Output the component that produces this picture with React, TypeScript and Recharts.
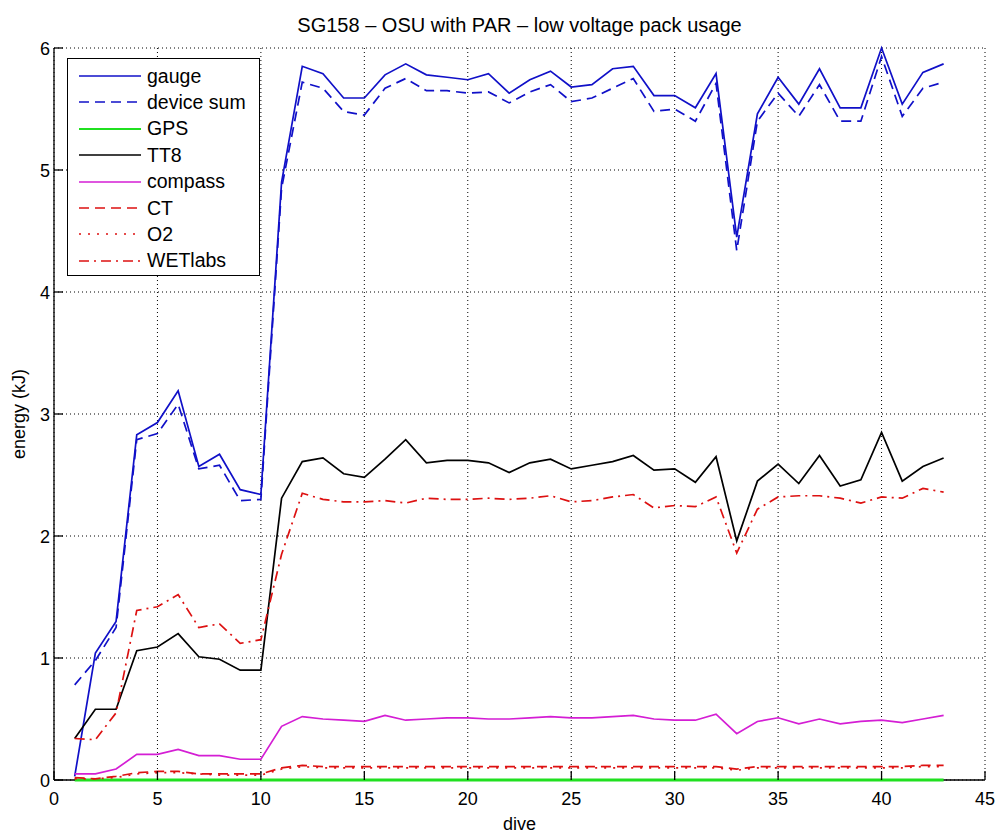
import { LineChart, Line, XAxis, YAxis, CartesianGrid, ReferenceLine } from 'recharts';

// dive numbers
const DIVES = [
  1, 2, 3, 4, 5, 6, 7, 8, 9, 10, 11, 12, 13, 14, 15, 16, 17, 18, 19, 20, 21, 22,
  23, 24, 25, 26, 27, 28, 29, 30, 31, 32, 33, 34, 35, 36, 37, 38, 39, 40, 41, 42, 43,
];

// energy per dive (kJ)
const GAUGE = [
  0.03, 1.04, 1.3, 2.83, 2.93, 3.19, 2.57, 2.67, 2.38, 2.34, 4.9, 5.85, 5.79, 5.59, 5.59,
  5.78, 5.87, 5.78, 5.76, 5.74, 5.79, 5.63, 5.74, 5.81, 5.68, 5.7, 5.83, 5.85, 5.61, 5.61,
  5.51, 5.79, 4.45, 5.46, 5.76, 5.54, 5.83, 5.51, 5.51, 6.0, 5.54, 5.8, 5.87,
];
const DEVICE_SUM = [
  0.78, 0.98, 1.25, 2.79, 2.84, 3.08, 2.55, 2.58, 2.29, 2.3, 4.85, 5.72, 5.67, 5.48, 5.45,
  5.67, 5.75, 5.65, 5.65, 5.63, 5.64, 5.55, 5.64, 5.7, 5.56, 5.59, 5.67, 5.75, 5.48, 5.5,
  5.4, 5.71, 4.34, 5.4, 5.63, 5.44, 5.7, 5.4, 5.4, 5.93, 5.44, 5.67, 5.72,
];
const GPS = [
  0, 0, 0, 0, 0, 0, 0, 0, 0, 0, 0, 0, 0, 0, 0, 0, 0, 0, 0, 0, 0, 0, 0, 0, 0, 0, 0, 0, 0, 0,
  0, 0, 0, 0, 0, 0, 0, 0, 0, 0, 0, 0, 0,
];
const TT8 = [
  0.34, 0.58, 0.58, 1.06, 1.09, 1.2, 1.01, 0.99, 0.9, 0.9, 2.31, 2.61, 2.64, 2.51, 2.48,
  2.63, 2.79, 2.6, 2.62, 2.62, 2.6, 2.52, 2.6, 2.63, 2.55, 2.58, 2.61, 2.66, 2.54, 2.55,
  2.44, 2.65, 1.96, 2.45, 2.59, 2.43, 2.66, 2.41, 2.46, 2.85, 2.45, 2.57, 2.64,
];
const COMPASS = [
  0.05, 0.05, 0.09, 0.21, 0.21, 0.25, 0.2, 0.2, 0.17, 0.17, 0.44, 0.52, 0.5, 0.49, 0.48,
  0.53, 0.49, 0.5, 0.51, 0.51, 0.5, 0.5, 0.51, 0.52, 0.51, 0.51, 0.52, 0.53, 0.5, 0.49,
  0.49, 0.54, 0.38, 0.48, 0.51, 0.46, 0.5, 0.46, 0.48, 0.49, 0.47, 0.5, 0.53,
];
const CT = [
  0.02, 0.01, 0.03, 0.06, 0.07, 0.07, 0.05, 0.05, 0.05, 0.05, 0.1, 0.12, 0.11, 0.11, 0.11,
  0.11, 0.11, 0.11, 0.11, 0.11, 0.11, 0.11, 0.11, 0.11, 0.11, 0.11, 0.11, 0.11, 0.11, 0.11,
  0.11, 0.11, 0.09, 0.11, 0.11, 0.11, 0.11, 0.11, 0.11, 0.11, 0.11, 0.12, 0.12,
];
const O2 = [
  0.01, 0.01, 0.02, 0.05, 0.06, 0.06, 0.05, 0.04, 0.04, 0.04, 0.09, 0.11, 0.1, 0.1, 0.1,
  0.1, 0.1, 0.1, 0.1, 0.1, 0.1, 0.1, 0.1, 0.1, 0.1, 0.1, 0.1, 0.1, 0.1, 0.1,
  0.1, 0.1, 0.08, 0.1, 0.1, 0.1, 0.1, 0.1, 0.1, 0.1, 0.1, 0.11, 0.11,
];
const WETLABS = [
  0.34, 0.33, 0.55, 1.39, 1.42, 1.52, 1.25, 1.28, 1.12, 1.15, 1.85, 2.35, 2.3, 2.28, 2.28,
  2.29, 2.27, 2.31, 2.3, 2.3, 2.31, 2.3, 2.31, 2.33, 2.28, 2.29, 2.32, 2.34, 2.23, 2.25,
  2.24, 2.32, 1.86, 2.22, 2.32, 2.33, 2.33, 2.31, 2.27, 2.32, 2.31, 2.39, 2.36,
];

const X_TICKS = [0, 5, 10, 15, 20, 25, 30, 35, 40, 45];
const Y_TICKS = [0, 1, 2, 3, 4, 5, 6];

const TITLE = 'SG158 – OSU with PAR – low voltage pack usage';

const BLUE = '#1010c8';
const RED = '#dd1111';

const SERIES = [
  { key: 'gauge', label: 'gauge', values: GAUGE, color: BLUE, dash: undefined, width: 1.7 },
  { key: 'deviceSum', label: 'device sum', values: DEVICE_SUM, color: BLUE, dash: '10 6', width: 1.7 },
  { key: 'gps', label: 'GPS', values: GPS, color: '#20e020', dash: undefined, width: 3 },
  { key: 'tt8', label: 'TT8', values: TT8, color: '#000000', dash: undefined, width: 1.7 },
  { key: 'compass', label: 'compass', values: COMPASS, color: '#d41ed4', dash: undefined, width: 1.7 },
  { key: 'ct', label: 'CT', values: CT, color: RED, dash: '10 6', width: 1.7 },
  { key: 'o2', label: 'O2', values: O2, color: RED, dash: '2 7', width: 1.7 },
  { key: 'wetlabs', label: 'WETlabs', values: WETLABS, color: RED, dash: '10 5 2 5', width: 1.7 },
];

const data = DIVES.map((dive, i) => {
  const row: Record<string, number> = { dive };
  SERIES.forEach((s) => {
    row[s.key] = s.values[i];
  });
  return row;
});

const FONT = '"Liberation Sans", Arial, Helvetica, sans-serif';
const TICK_LEN = 9;

// MATLAB style: ticks point into the plot box
function BottomTick({ x, y, payload }: any) {
  return (
    <g>
      <line x1={x} x2={x} y1={y} y2={y - TICK_LEN} stroke="#000" strokeWidth={1.3} />
      <text x={x} y={y + 25} textAnchor="middle" fontSize={18} fontFamily={FONT} fill="#000">
        {payload.value}
      </text>
    </g>
  );
}

function TopTick({ x, y }: any) {
  return <line x1={x} x2={x} y1={y} y2={y + TICK_LEN} stroke="#000" strokeWidth={1.3} />;
}

function LeftTick({ x, y, payload }: any) {
  return (
    <g>
      <line x1={x} x2={x + TICK_LEN} y1={y} y2={y} stroke="#000" strokeWidth={1.3} />
      <text x={x - 4} y={y + 6.5} textAnchor="end" fontSize={18} fontFamily={FONT} fill="#000">
        {payload.value}
      </text>
    </g>
  );
}

function RightTick({ x, y }: any) {
  return <line x1={x} x2={x - TICK_LEN} y1={y} y2={y} stroke="#000" strokeWidth={1.3} />;
}

function Legendbox() {
  return (
    <div
      style={{
        position: 'absolute',
        left: 67,
        top: 58,
        width: 193,
        height: 218,
        boxSizing: 'border-box',
        border: '1.5px solid #000',
        background: '#fff',
        fontFamily: FONT,
        fontSize: 19.5,
        color: '#000',
      }}
    >
      {SERIES.map((s, i) => (
        <div
          key={s.key}
          style={{
            position: 'absolute',
            left: 0,
            top: 17 + i * 26.4 - 13,
            height: 26,
            display: 'flex',
            alignItems: 'center',
          }}
        >
          <svg width={73} height={26} style={{ display: 'block' }}>
            <line
              x1={11}
              x2={73}
              y1={13}
              y2={13}
              stroke={s.color}
              strokeWidth={s.key === 'gps' ? 2 : 1.7}
              strokeDasharray={s.dash}
            />
          </svg>
          <span style={{ marginLeft: 6, whiteSpace: 'nowrap' }}>{s.label}</span>
        </div>
      ))}
    </div>
  );
}

export default function App() {
  return (
    <div
      style={{
        position: 'absolute',
        left: 0,
        top: 0,
        width: 1006,
        height: 839,
        background: '#fff',
      }}
    >
      <div
        style={{
          position: 'absolute',
          left: 54,
          top: 15,
          width: 931,
          textAlign: 'center',
          fontFamily: FONT,
          fontSize: 20,
          lineHeight: '21px',
          color: '#000',
          whiteSpace: 'nowrap',
        }}
      >
        {TITLE}
      </div>
      <LineChart
        width={1006}
        height={839}
        data={data}
        margin={{ top: 48, right: 21, bottom: 29, left: 14 }}
      >
        <CartesianGrid stroke="#000" strokeDasharray="1 3" strokeWidth={1} />
        <XAxis
          dataKey="dive"
          type="number"
          domain={[0, 45]}
          ticks={X_TICKS}
          height={30}
          tickSize={0}
          tickMargin={0}
          tickLine={false}
          axisLine={false}
          tick={<BottomTick />}
          interval={0}
          label={{
            content: ({ viewBox }: any) => (
              <text
                x={viewBox.x + viewBox.width / 2}
                y={viewBox.y + 50}
                textAnchor="middle"
                fontSize={18}
                fontFamily={FONT}
                fill="#000"
              >
                dive
              </text>
            ),
          }}
        />
        <XAxis
          xAxisId="top"
          orientation="top"
          dataKey="dive"
          type="number"
          domain={[0, 45]}
          ticks={X_TICKS}
          height={0}
          tickSize={0}
          tickMargin={0}
          tickLine={false}
          axisLine={{ stroke: '#000', strokeWidth: 1.3 }}
          tick={<TopTick />}
          interval={0}
        />
        <YAxis
          type="number"
          domain={[0, 6]}
          ticks={Y_TICKS}
          width={40}
          tickSize={0}
          tickMargin={0}
          tickLine={false}
          axisLine={{ stroke: '#000', strokeWidth: 1.3 }}
          tick={<LeftTick />}
          interval={0}
          label={{
            content: ({ viewBox }: any) => {
              const cx = viewBox.x + 5;
              const cy = viewBox.y + viewBox.height / 2;
              return (
                <text
                  x={cx}
                  y={cy}
                  transform={`rotate(-90 ${cx} ${cy})`}
                  textAnchor="middle"
                  dominantBaseline="central"
                  fontSize={18}
                  fontFamily={FONT}
                  fill="#000"
                >
                  energy (kJ)
                </text>
              );
            },
          }}
        />
        <YAxis
          yAxisId="right"
          orientation="right"
          type="number"
          domain={[0, 6]}
          ticks={Y_TICKS}
          width={0}
          tickSize={0}
          tickMargin={0}
          tickLine={false}
          axisLine={{ stroke: '#000', strokeWidth: 1.3 }}
          tick={<RightTick />}
          interval={0}
        />
        {/* bottom edge of the box, kept under the series so GPS stays visible */}
        <ReferenceLine y={0} stroke="#000" strokeWidth={1.3} />
        {SERIES.map((s) => (
          <Line
            key={s.key}
            dataKey={s.key}
            name={s.label}
            type="linear"
            stroke={s.color}
            strokeWidth={s.width}
            strokeDasharray={s.dash}
            dot={false}
            activeDot={false}
            isAnimationActive={false}
          />
        ))}
      </LineChart>
      <Legendbox />
    </div>
  );
}
